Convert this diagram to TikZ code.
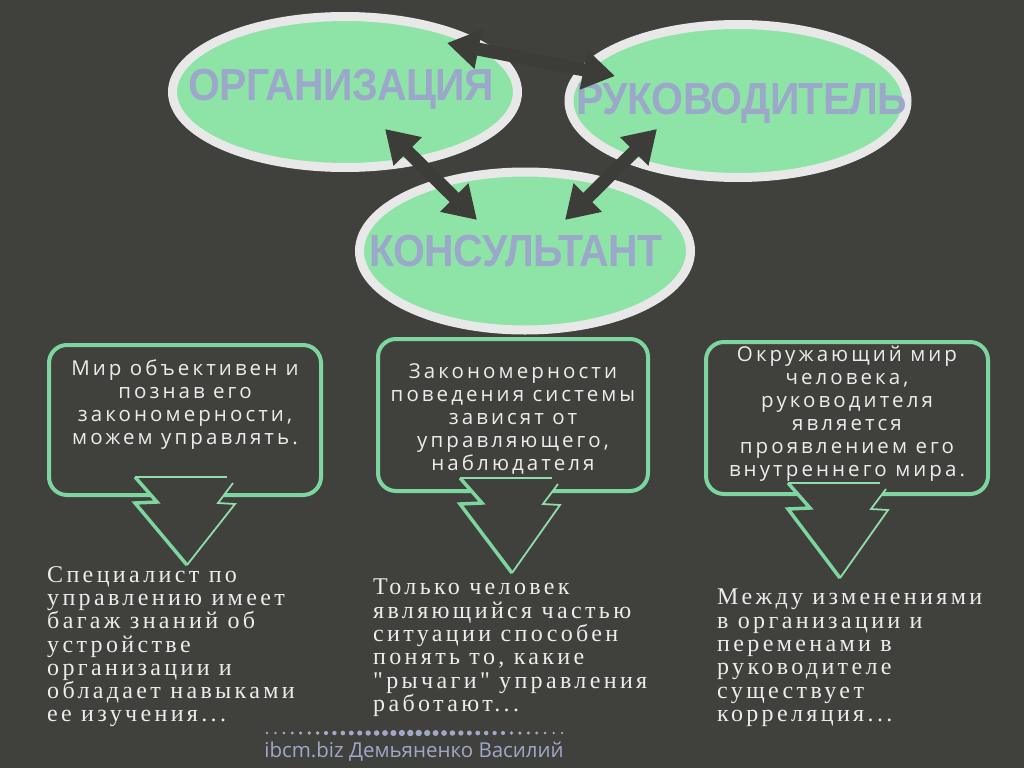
\documentclass[tikz,border=0pt]{standalone}
\usepackage{fontspec}
\setmainfont{Liberation Serif}
\newfontfamily\titlefont[FakeStretch=0.91,LetterSpace=-1.5]{Liberation Sans}
\newfontfamily\boxfont[LetterSpace=15]{Open Sans}
\newfontfamily\notefont[LetterSpace=14]{Liberation Serif}
\newfontfamily\footfont{Open Sans}
\usetikzlibrary{shapes.geometric, arrows.meta}

\definecolor{bgcol}{RGB}{64,64,60}
\definecolor{bubblefill}{RGB}{142,228,166}
\definecolor{bubbleline}{RGB}{232,232,232}
\definecolor{titlecol}{RGB}{156,168,202}
\definecolor{arrowcol}{RGB}{60,60,56}
\definecolor{boxgreen}{RGB}{125,214,158}
\definecolor{textcol}{RGB}{236,236,236}
\definecolor{footcol}{RGB}{160,168,200}

\tikzset{
  bubble/.style={ellipse, draw=bubbleline, fill=bubblefill, line width=9pt, inner sep=0pt},
  bubbletitle/.style={inner sep=0pt, text=titlecol,
    font=\titlefont\bfseries\fontsize{45}{45}\selectfont},
  link/.style={line width=13pt, draw=arrowcol,
    {Triangle[width=38pt,length=32pt]}-{Triangle[width=38pt,length=32pt]}},
  notebox/.style={draw=boxgreen, line width=4pt, rounded corners=18pt},
  boxtext/.style={align=center, text=textcol, inner sep=0pt,
    font=\boxfont\fontsize{20.5}{23}\selectfont},
  lowertext/.style={align=left, text=textcol, inner sep=0pt, anchor=north west,
    font=\notefont\fontsize{24}{23.3}\selectfont},
  callthick/.style={draw=boxgreen, line width=3.5pt, line join=miter},
  callthin/.style={draw=boxgreen!85!white, line width=1.8pt}
}

\begin{document}
\begin{tikzpicture}[x=1pt,y=-1pt]
\fill[bgcol] (0,0) rectangle (1024,768);
\useasboundingbox (0,0) rectangle (1024,768);

% three bubbles
\node[bubble, minimum width=345pt, minimum height=151pt] (org) at (345,92) {};
\node[bubble, minimum width=338pt, minimum height=153pt] (ruk) at (738,101) {};
\node[bubble, minimum width=331pt, minimum height=158pt] (kons) at (525,251) {};
\node[bubbletitle] (orgT) at (341,89) {ОРГАНИЗАЦИЯ};
\node[bubbletitle] (rukT) at (742,103) {РУКОВОДИТЕЛЬ};
\node[bubbletitle] (konsT) at (516,251) {КОНСУЛЬТАНТ};

% arrow ends
\coordinate (orgTop) at (447,43);
\coordinate (rukTop) at (615,76);
\coordinate (orgLow) at (385,129);
\coordinate (konsL) at (477,220);
\coordinate (rukLow) at (657,129);
\coordinate (konsR) at (565,220);

\draw[link] (orgTop) -- (rukTop);
\draw[link] (orgLow) -- (konsL);
\draw[link] (rukLow) -- (konsR);

% boxes
\node[notebox, minimum width=272pt, minimum height=150pt] (box1) at (185,420) {};
\node[notebox, minimum width=270pt, minimum height=152pt] (box2) at (513,415) {};
\node[notebox, minimum width=282pt, minimum height=152pt] (box3) at (847,418) {};

\node[boxtext] (txt1) at (185,405) {Мир объективен и\\познав его\\закономерности,\\можем управлять.};
\node[boxtext] (txt2) at (513,419) {Закономерности\\поведения системы\\зависят от\\управляющего,\\наблюдателя};
\node[boxtext] (txt3) at (847,414) {Окружающий мир\\человека,\\руководителя\\является\\проявлением его\\внутреннего мира.};

% callout arrows
\foreach \cx/\cy/\dy in {135/477/88, 460/478/95, 788/483/95} {
  \fill[bgcol] (\cx,\cy) -- (\cx+92,\cy) -- (\cx+98,\cy+6) -- (\cx+83,\cy+26)
    -- (\cx+100,\cy+27) -- (\cx+52,\cy+\dy) -- (\cx,\cy+26) -- (\cx+22,\cy+25) -- cycle;
  \draw[callthick] (\cx,\cy) -- (\cx+22,\cy+25) -- (\cx,\cy+26) -- (\cx+52,\cy+\dy);
  \draw[callthin] (\cx+52,\cy+\dy) -- (\cx+100,\cy+27) -- (\cx+83,\cy+26) -- (\cx+98,\cy+6);
  \draw[callthin, line width=1.2pt] (\cx,\cy) -- (\cx+92,\cy);
}

% lower texts
\node[lowertext] (low1) at (47,566) {Специалист по\\управлению имеет\\багаж знаний об\\устройстве\\организации и\\обладает навыками\\ее изучения...};
\node[lowertext] (low2) at (373,579) {Только человек\\являющийся частью\\ситуации способен\\понять то, какие\\"рычаги" управления\\работают...};
\node[lowertext] (low3) at (717,589) {Между изменениями\\в организации и\\переменами в\\руководителе\\существует\\корреляция...};

% footer
\foreach \i in {0,...,35} {
  \pgfmathsetmacro{\dx}{267+\i*8.43}
  \pgfmathsetmacro{\dr}{1.1+2.2*max(0,1-abs(\dx-413)/160)}
  \fill[footcol] (\dx,733) circle[radius=\dr pt];
}
\node[text=footcol, font=\footfont\fontsize{20.5}{20.5}\selectfont] (sign) at (414,752) {ibcm.biz Демьяненко Василий};
\end{tikzpicture}
\end{document}
